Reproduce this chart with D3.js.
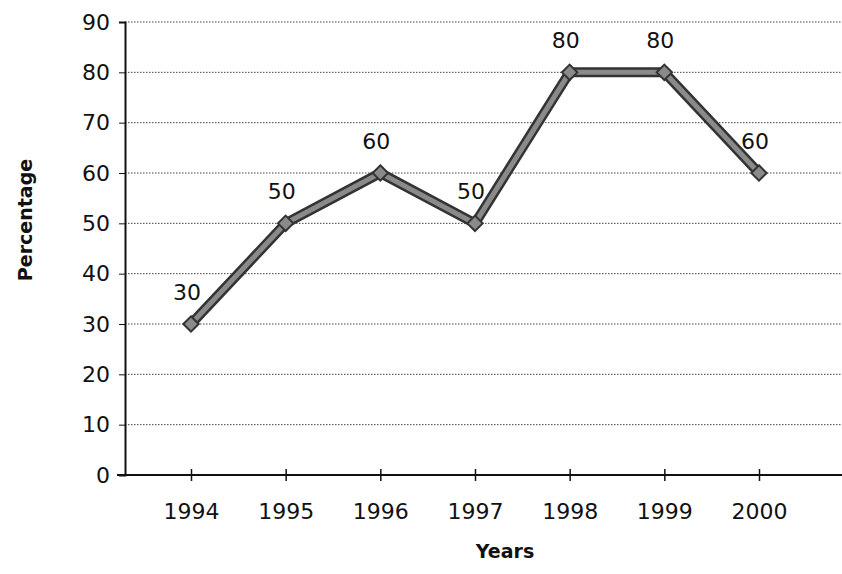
<!DOCTYPE html>
<html lang="en">
  <head>
    <meta charset="UTF-8" />
    <title>Percentage by year</title>
    <style>
      body { margin: 0; background: #fff; }
      text { font-family: "DejaVu Sans", Verdana, sans-serif; fill: #111; }
    </style>
  </head>
  <body>
    <script src="https://d3js.org/d3.v7.min.js"></script>
    <script>
      const years = ["1994", "1995", "1996", "1997", "1998", "1999", "2000"];
      const percentages = [30, 50, 60, 50, 80, 80, 60];
      const yTicks = [0, 10, 20, 30, 40, 50, 60, 70, 80, 90];

      const width = 842;
      const height = 574;
      const margin = { top: 22, right: 0, bottom: 99, left: 125 };

      const svg = d3
        .select("body")
        .append("svg")
        .attr("width", width)
        .attr("height", height);

      const x = d3
        .scalePoint()
        .domain(years)
        .range([191, 759]);

      const y = d3
        .scaleLinear()
        .domain([0, 90])
        .range([height - margin.bottom, margin.top]);

      // dotted gridlines
      svg
        .append("g")
        .selectAll("line")
        .data(yTicks.filter((d) => d > 0))
        .join("line")
        .attr("x1", margin.left)
        .attr("x2", width)
        .attr("y1", (d) => y(d))
        .attr("y2", (d) => y(d))
        .attr("stroke", "#444")
        .attr("stroke-width", 1)
        .attr("stroke-dasharray", "1.5,1.5");

      // y axis
      const yAxis = svg
        .append("g")
        .attr("transform", `translate(${margin.left},0)`)
        .call(d3.axisLeft(y).tickValues(yTicks).tickSize(6).tickPadding(9));
      yAxis.select(".domain").attr("stroke", "#111").attr("stroke-width", 2);
      yAxis.selectAll(".tick line").attr("stroke", "#111");
      yAxis.selectAll("text").attr("font-size", 22).attr("fill", "#111");

      // x axis
      const xAxis = svg
        .append("g")
        .attr("transform", `translate(0,${y(0)})`)
        .call(d3.axisBottom(x).tickSize(0).tickPadding(28));
      xAxis.select(".domain").remove();
      xAxis
        .append("line")
        .attr("x1", margin.left - 8)
        .attr("x2", width)
        .attr("stroke", "#111")
        .attr("stroke-width", 2);
      xAxis
        .selectAll(".tick")
        .append("line")
        .attr("y1", -6)
        .attr("y2", 6)
        .attr("stroke", "#111")
        .attr("stroke-width", 1.5);
      xAxis.selectAll("text").attr("font-size", 22).attr("fill", "#111");

      const line = d3
        .line()
        .x((d, i) => x(years[i]))
        .y((d) => y(d));

      // thick hatched-looking series line
      svg
        .append("path")
        .datum(percentages)
        .attr("d", line)
        .attr("fill", "none")
        .attr("stroke", "#333")
        .attr("stroke-width", 10)
        .attr("stroke-linejoin", "miter");
      svg
        .append("path")
        .datum(percentages)
        .attr("d", line)
        .attr("fill", "none")
        .attr("stroke", "#8a8a8a")
        .attr("stroke-width", 5)
        .attr("stroke-linejoin", "miter");

      // diamond markers
      svg
        .append("g")
        .selectAll("path")
        .data(percentages)
        .join("path")
        .attr("transform", (d, i) => `translate(${x(years[i])},${y(d)})`)
        .attr("d", d3.symbol(d3.symbolDiamond2, 150))
        .attr("fill", "#8a8a8a")
        .attr("stroke", "#333")
        .attr("stroke-width", 2);

      // value labels
      svg
        .append("g")
        .selectAll("text")
        .data(percentages)
        .join("text")
        .attr("x", (d, i) => x(years[i]) - 4)
        .attr("y", (d) => y(d) - 24)
        .attr("text-anchor", "middle")
        .attr("font-size", 22)
        .text((d) => d);

      // axis titles
      svg
        .append("text")
        .attr("transform", `translate(32,220) rotate(-90)`)
        .attr("text-anchor", "middle")
        .attr("font-size", 19)
        .attr("font-weight", "bold")
        .text("Percentage");

      svg
        .append("text")
        .attr("x", 505)
        .attr("y", 558)
        .attr("text-anchor", "middle")
        .attr("font-size", 19)
        .attr("font-weight", "bold")
        .text("Years");
    </script>
  </body>
</html>
